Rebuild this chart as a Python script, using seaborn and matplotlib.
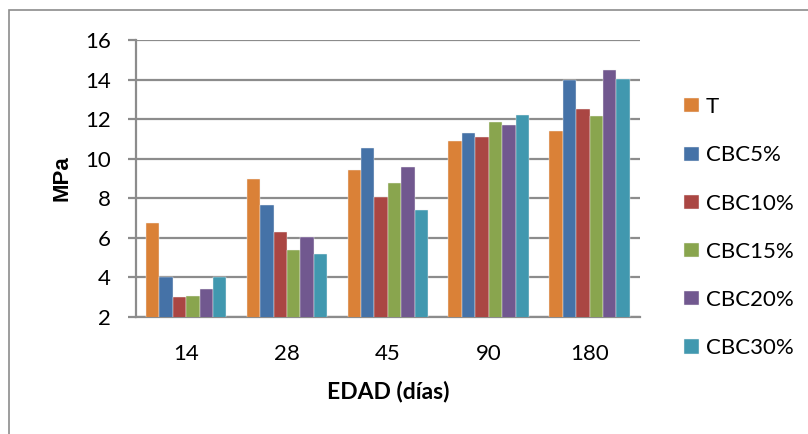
import pandas as pd
import seaborn as sns
import matplotlib.pyplot as plt
from matplotlib.patches import Rectangle

# Data
edades = ["14", "28", "45", "90", "180"]
series = ["T", "CBC5%", "CBC10%", "CBC15%", "CBC20%", "CBC30%"]
t_vals = [6.75, 9.0, 9.45, 10.9, 11.4]
cbc5_vals = [4.0, 7.65, 10.55, 11.3, 14.0]
cbc10_vals = [3.0, 6.3, 8.05, 11.1, 12.5]
cbc15_vals = [3.05, 5.4, 8.75, 11.85, 12.15]
cbc20_vals = [3.4, 6.05, 9.6, 11.7, 14.5]
cbc30_vals = [4.0, 5.2, 7.4, 12.2, 14.05]
colors = ["#DA8137", "#4572A7", "#AA4643", "#89A54E", "#71588F", "#4198AF"]

all_vals = [t_vals, cbc5_vals, cbc10_vals, cbc15_vals, cbc20_vals, cbc30_vals]
rows = []
for name, vals in zip(series, all_vals):
    for e, v in zip(edades, vals):
        rows.append({"EDAD": e, "Serie": name, "MPa": v})
df = pd.DataFrame(rows)

sns.set_style("white")
plt.rcParams['font.family'] = ['Lato', 'DejaVu Sans']
plt.rcParams['text.color'] = 'black'
plt.rcParams['axes.labelcolor'] = 'black'

fig = plt.figure(figsize=(8.08, 4.34), dpi=100)
ax = fig.add_axes([0.168, 0.2696, 0.624, 0.638])

sns.barplot(data=df, x="EDAD", y="MPa", hue="Serie", order=edades,
            hue_order=series, palette=colors, saturation=1, width=0.8, gap=0,
            edgecolor="#f4f4f4", linewidth=0.3, ax=ax, zorder=3)

ax.set_ylim(2, 16)
ax.set_yticks(range(2, 17, 2))
ax.yaxis.grid(True, color="#8c8c8c", linewidth=1.6, zorder=0)
ax.set_axisbelow(True)
for s in ["top", "right"]:
    ax.spines[s].set_visible(False)
for s in ["left", "bottom"]:
    ax.spines[s].set_color("#8c8c8c")
    ax.spines[s].set_linewidth(1.6)
ax.tick_params(axis="y", left=True, length=6, width=1.6, color="#8c8c8c",
               labelsize=16, pad=12, labelcolor="black")
ax.tick_params(axis="x", bottom=False, labelsize=16, pad=16, labelcolor="black")

ax.set_ylabel("MPa", fontsize=16, fontweight="bold", family="Liberation Sans", labelpad=9)
ax.set_xlabel("EDAD (días)", fontsize=16.5, fontweight="bold", labelpad=12)

ax.legend(loc="upper left", bbox_to_anchor=(0.8465, 0.776),
          bbox_transform=fig.transFigure, frameon=False, fontsize=16,
          handlelength=0.68, handleheight=0.6, handletextpad=0.3,
          labelspacing=1.27, borderpad=0, borderaxespad=0)

# outer chart border
fig.patches.append(Rectangle((0.011, -0.1), 1.2, 1.076, transform=fig.transFigure,
                             fill=False, edgecolor="#8c8c8c", linewidth=1.2))

fig.savefig("out.png", dpi=100)
